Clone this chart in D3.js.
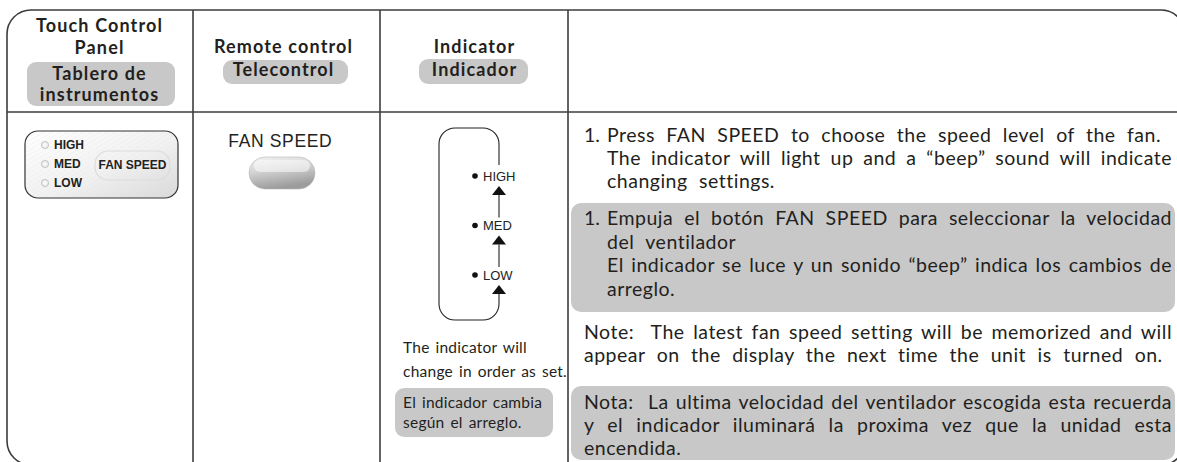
<!DOCTYPE html>
<html><head><meta charset="utf-8">
<script src="https://cdn.jsdelivr.net/npm/d3@7"></script>
<style>body{margin:0;background:#fff}svg{display:block}</style>
</head><body><svg id="c" width="1177" height="462"></svg>
<script>
// ---- data ----
const headers = [
  {en:["Touch Control","Panel"], es:["Tablero de","instrumentos"]},
  {en:["Remote control"], es:["Telecontrol"]},
  {en:["Indicator"], es:["Indicador"]}
];
const panelLevels = ["HIGH","MED","LOW"];
const panelButton = "FAN SPEED";
const remoteLabel = "FAN SPEED";
const indicatorLevels = ["HIGH","MED","LOW"];
const captionEn = ["The indicator will","change in order as set."];
const captionEs = ["El indicador cambia","según el arreglo."];
const stepNumber = "1.";
const stepEn = ["Press FAN SPEED to choose the speed level of the fan.","The indicator will light up and a “beep” sound will indicate","changing settings."];
const stepEs = ["Empuja el botón FAN SPEED para seleccionar la velocidad","del ventilador","El indicador se luce y un sonido “beep” indica los cambios de","arreglo."];
const noteEn = ["Note:  The latest fan speed setting will be memorized and will","appear on the display the next time the unit is turned on."];
const noteEs = ["Nota:  La ultima velocidad del ventilador escogida esta recuerda","y el indicador iluminará la proxima vez que la unidad esta","encendida."];
const justifiedEn = [false,true,false], justifiedEs=[true,false,true,false];
const justifiedNoteEn=[true,false], justifiedNoteEs=[true,true,false];

// ---- drawing ----
const svg = d3.select("#c");
const INK = "#231f20", LINE="#3c3c3c", GRAY="#c8c8c8";
const SERIF = "Lato, 'Open Sans', sans-serif";
const ARIAL = "'Liberation Sans', Arial, sans-serif";
const defs = svg.append("defs");

const g1 = defs.append("linearGradient").attr("id","panelGrad").attr("x1","0").attr("y1","0").attr("x2","1").attr("y2","1");
g1.append("stop").attr("offset","0").attr("stop-color","#ffffff");
g1.append("stop").attr("offset","0.55").attr("stop-color","#f1f1f1");
g1.append("stop").attr("offset","1").attr("stop-color","#d9d9d9");
const pat = defs.append("pattern").attr("id","hatch").attr("width",4).attr("height",4).attr("patternUnits","userSpaceOnUse").attr("patternTransform","rotate(-30)");
pat.append("line").attr("x1",0).attr("y1",0).attr("x2",4).attr("y2",0).attr("stroke","#e2e2e2").attr("stroke-width",0.8);
const g2 = defs.append("linearGradient").attr("id","btnGrad").attr("x1","0").attr("y1","0").attr("x2","0.3").attr("y2","1");
g2.append("stop").attr("offset","0").attr("stop-color","#f4f4f4");
g2.append("stop").attr("offset","0.45").attr("stop-color","#d4d4d4");
g2.append("stop").attr("offset","1").attr("stop-color","#9c9c9c");
const g3 = defs.append("radialGradient").attr("id","ledGrad");
g3.append("stop").attr("offset","0").attr("stop-color","#ffffff");
g3.append("stop").attr("offset","1").attr("stop-color","#e4e4e4");

function measure(text, family, weight, size, ls){
  const t = svg.append("text").attr("font-family",family).attr("font-weight",weight).attr("font-size",size).attr("letter-spacing",ls||0).attr("xml:space","preserve").style("white-space","pre").text(text);
  const w = t.node().getComputedTextLength(); t.remove(); return w;
}
const nSpaces = s => (s.match(/ /g)||[]).length;

// outer frame & grid
const X0=7, Y0=10, XR=1185, YB=465;
svg.append("rect").attr("x",X0).attr("y",Y0).attr("width",XR-X0).attr("height",YB-Y0).attr("rx",24).attr("ry",24)
  .attr("fill","none").attr("stroke",LINE).attr("stroke-width",1.6);
const colX = [193,380,568];
svg.selectAll("line.col").data(colX).join("line").attr("class","col")
  .attr("x1",d=>d).attr("x2",d=>d).attr("y1",Y0).attr("y2",YB).attr("stroke",LINE).attr("stroke-width",1.6);
svg.append("line").attr("x1",X0).attr("x2",XR).attr("y1",112).attr("y2",112).attr("stroke",LINE).attr("stroke-width",1.6);

// headers
const hSize = 18;
const hLs = Math.max(0,(137 - measure("Touch Control", SERIF, 700, hSize))/13*0.6);
const headerCfg = [
  {cx:99, enY:[32,54], esY:[80,101], pill:{x:27,y:62,w:148,h:44}},
  {cx:283, enY:[53], esY:[76], pill:{x:223,y:60,w:125,h:24}},
  {cx:474, enY:[53], esY:[76], pill:{x:419,y:59,w:109,h:25}}
];
function htext(x,y,s){
  svg.append("text").attr("x",x+hLs/2).attr("y",y).attr("text-anchor","middle")
    .attr("font-family",SERIF).attr("font-weight",700).attr("font-size",hSize).attr("letter-spacing",hLs).attr("fill",INK).text(s);
}
headers.forEach((h,i)=>{
  const c = headerCfg[i];
  svg.append("rect").attr("x",c.pill.x).attr("y",c.pill.y).attr("width",c.pill.w).attr("height",c.pill.h).attr("rx",9).attr("fill",GRAY);
  h.en.forEach((s,j)=>htext(c.cx,c.enY[j],s));
  h.es.forEach((s,j)=>htext(c.cx,c.esY[j],s));
});

// touch panel
svg.append("rect").attr("x",25).attr("y",131).attr("width",153).attr("height",67).attr("rx",13).attr("fill","url(#panelGrad)").attr("stroke","#333").attr("stroke-width",1.2);
svg.append("rect").attr("x",26).attr("y",132).attr("width",151).attr("height",65).attr("rx",12).attr("fill","url(#hatch)").attr("opacity",0.6);
const py = d3.scalePoint().domain(panelLevels).range([145,183]);
svg.selectAll("circle.led").data(panelLevels).join("circle").attr("class","led")
  .attr("cx",45).attr("cy",d=>py(d)).attr("r",3.6).attr("fill","url(#ledGrad)").attr("stroke","#bdbdbd").attr("stroke-width",0.8);
svg.selectAll("text.plev").data(panelLevels).join("text").attr("class","plev")
  .attr("x",54).attr("y",d=>py(d)).attr("dy","0.36em").attr("font-family",ARIAL).attr("font-weight",700).attr("font-size",12).attr("fill","#222").text(d=>d);
svg.append("rect").attr("x",95).attr("y",151).attr("width",75).attr("height",29).attr("rx",13).attr("fill","none").attr("stroke","#dcdcdc").attr("stroke-width",1.2);
svg.append("text").attr("x",132.5).attr("y",165).attr("dy","0.36em").attr("text-anchor","middle").attr("font-family",ARIAL).attr("font-weight",700).attr("font-size",12).attr("fill","#222").text(panelButton);

// remote
const rSize = 17.5;
const rLs = (104 - measure(remoteLabel, ARIAL, 400, rSize))/remoteLabel.length;
svg.append("text").attr("x",280+rLs/2).attr("y",147).attr("text-anchor","middle").attr("font-family",ARIAL).attr("font-size",rSize).attr("letter-spacing",rLs).attr("fill","#222").text(remoteLabel);
svg.append("rect").attr("x",249).attr("y",157).attr("width",66).attr("height",32).attr("rx",16).attr("fill","url(#btnGrad)").attr("stroke","#b5b5b5").attr("stroke-width",0.6);
svg.append("rect").attr("x",254).attr("y",160).attr("width",56).attr("height",12).attr("rx",6).attr("fill","#fff").attr("opacity",0.5);

// indicator loop
const iy = d3.scalePoint().domain(indicatorLevels).range([176,275]);
const L=439, R=499, T=128, B=320, r=16;
const p = d3.path();
p.moveTo(R, iy("HIGH")-11); p.lineTo(R, T+r); p.arcTo(R,T,R-r,T,r); p.lineTo(L+r,T); p.arcTo(L,T,L,T+r,r);
p.lineTo(L,B-r); p.arcTo(L,B,L+r,B,r); p.lineTo(R-r,B); p.arcTo(R,B,R,B-r,r); p.lineTo(R, iy("LOW")+19);
svg.append("path").attr("d",p.toString()).attr("fill","none").attr("stroke","#222").attr("stroke-width",1.1);
indicatorLevels.slice(0,-1).forEach((lv,k)=>{
  const next = indicatorLevels[k+1];
  svg.append("line").attr("x1",R).attr("x2",R).attr("y1",iy(lv)+19).attr("y2",iy(next)-8).attr("stroke","#222").attr("stroke-width",1.1);
});
svg.selectAll("path.arr").data(indicatorLevels).join("path").attr("class","arr")
  .attr("d",d=>{const t=iy(d)+10; return `M${R},${t}L${R+7},${t+9}L${R-7},${t+9}Z`;}).attr("fill","#111");
svg.selectAll("circle.dot").data(indicatorLevels).join("circle").attr("class","dot")
  .attr("cx",475).attr("cy",d=>iy(d)).attr("r",2.8).attr("fill","#111");
svg.selectAll("text.ilev").data(indicatorLevels).join("text").attr("class","ilev")
  .attr("x",483).attr("y",d=>iy(d)).attr("dy","0.36em").attr("font-family",ARIAL).attr("font-size",13).attr("fill","#222").text(d=>d);

// captions
const cSize = 15.5, cLs = 0.25;
const cWs = (164 - measure(captionEn[1], SERIF, 400, cSize, cLs))/nSpaces(captionEn[1]);
function ctext(x,y,s){ svg.append("text").attr("x",x).attr("y",y).attr("font-family",SERIF).attr("font-size",cSize).attr("letter-spacing",cLs).attr("word-spacing",cWs).attr("fill",INK).text(s); }
captionEn.forEach((s,j)=>ctext(403,353+j*24,s));
svg.append("rect").attr("x",395).attr("y",388).attr("width",158).attr("height",49).attr("rx",9).attr("fill",GRAY);
captionEs.forEach((s,j)=>ctext(403,408+j*20,s));

// right column
const bSize = 19.5, bLs = 0.5;
const baseWs = (554 - measure(stepEn[0], SERIF, 400, bSize, bLs))/nSpaces(stepEn[0]);
const RIGHT = 1172;
function para(lines, just, x, y0, lh){
  lines.forEach((s,j)=>{
    let ws = baseWs;
    if(just[j]) ws = (RIGHT - x - measure(s, SERIF, 400, bSize, bLs))/nSpaces(s);
    svg.append("text").attr("x",x).attr("y",y0+j*lh).attr("font-family",SERIF).attr("font-size",bSize)
      .attr("letter-spacing",bLs).attr("word-spacing",ws).attr("fill",INK).attr("xml:space","preserve").style("white-space","pre").text(s);
  });
}
svg.append("rect").attr("x",571).attr("y",203).attr("width",604).attr("height",109).attr("rx",10).attr("fill",GRAY);
svg.append("rect").attr("x",571).attr("y",386).attr("width",604).attr("height",74).attr("rx",10).attr("fill",GRAY);
svg.append("text").attr("x",584).attr("y",142).attr("font-family",SERIF).attr("font-size",bSize).attr("fill",INK).text(stepNumber);
para(stepEn, justifiedEn, 607, 142, 23);
svg.append("text").attr("x",584).attr("y",225).attr("font-family",SERIF).attr("font-size",bSize).attr("fill",INK).text(stepNumber);
para(stepEs, justifiedEs, 607, 225, 23.5);
para(noteEn, justifiedNoteEn, 584, 339, 23);
para(noteEs, justifiedNoteEs, 584, 409, 23);
</script></body></html>
